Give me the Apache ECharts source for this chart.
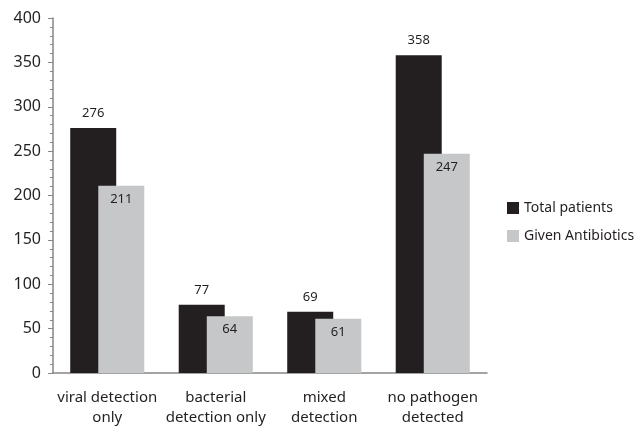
<!DOCTYPE html>
<html><head><meta charset="utf-8">
<script src="https://cdn.jsdelivr.net/npm/echarts@6/dist/echarts.min.js"></script>
<style>html,body{margin:0;padding:0;background:#fff}#c{width:640px;height:427px}</style>
</head><body><div id="c"></div>
<script>
const categories = ['viral detection\nonly', 'bacterial\ndetection only', 'mixed\ndetection', 'no pathogen\ndetected'];
const totalPatients = [276, 77, 69, 358];
const givenAntibiotics = [211, 64, 61, 247];
const seriesNames = ['Total patients', 'Given Antibiotics'];

const font = 'Noto Sans';
const txt = '#231f20';
const chart = echarts.init(document.getElementById('c'));
chart.setOption({
  animation: false,
  textStyle: { fontFamily: font },
  grid: { left: 53, right: 153, top: 18, bottom: 54, outerBoundsMode: 'none', containLabel: false },
  legend: {
    orient: 'vertical', left: 502, top: 196,
    itemWidth: 12, itemHeight: 12, itemGap: 14,
    icon: 'rect',
    textStyle: { fontFamily: font, fontSize: 14, color: txt },
    data: seriesNames
  },
  xAxis: {
    type: 'category', data: categories,
    axisLine: { lineStyle: { color: '#868686', width: 1.5 } },
    axisTick: { show: false },
    axisLabel: { fontFamily: font, fontSize: 15, color: txt, lineHeight: 20, margin: 15, interval: 0 }
  },
  yAxis: {
    type: 'value', min: 0, max: 400, interval: 50,
    splitLine: { show: false },
    axisLine: { show: true, lineStyle: { color: '#868686', width: 1.5 } },
    axisTick: { show: true, length: 5, lineStyle: { color: '#868686' } },
    minorTick: { show: true, splitNumber: 5, length: 3, lineStyle: { color: '#868686' } },
    axisLabel: { fontFamily: font, fontSize: 16, color: txt, margin: 12 }
  },
  series: [
    {
      name: seriesNames[0], type: 'bar', data: totalPatients,
      barWidth: 46, barGap: '-39%',
      itemStyle: { color: '#231f20' },
      label: { show: true, position: 'top', distance: 8, fontFamily: font, fontSize: 13, color: txt }
    },
    {
      name: seriesNames[1], type: 'bar', data: givenAntibiotics,
      barWidth: 46,
      itemStyle: { color: '#c6c7c8' },
      label: { show: true, position: 'insideTop', distance: 7, fontFamily: font, fontSize: 13, color: txt }
    }
  ]
});
</script></body></html>
